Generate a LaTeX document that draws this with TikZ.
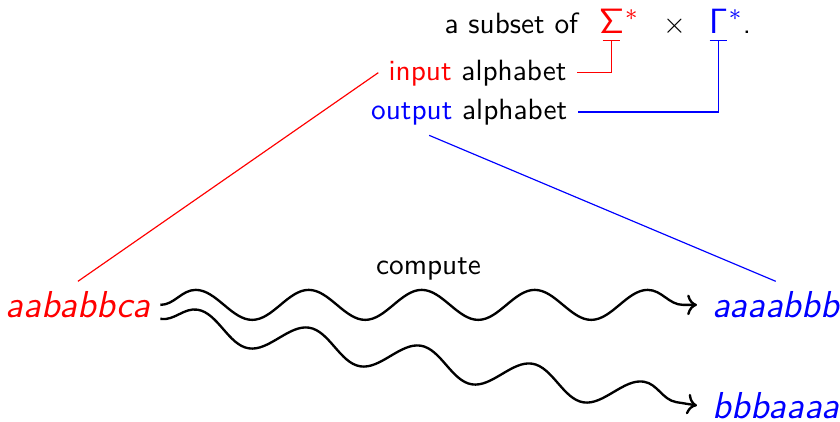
\documentclass[tikz,border=0pt]{standalone}
\usetikzlibrary{decorations.pathmorphing,arrows.meta,calc}
\begin{document}
\begin{tikzpicture}[x=0.3413pt,y=-0.3413pt,
  txt/.style={inner sep=0pt, anchor=base west, font=\sffamily\fontsize{10}{12}\selectfont},
  lbl/.style={inner sep=3.333pt, anchor=base west, font=\sffamily\fontsize{10}{12}\selectfont},
  word/.style={inner sep=3.333pt, anchor=base west, font=\sffamily\itshape\fontsize{12.8}{15}\selectfont},
  greek/.style={inner xsep=0pt, inner ysep=2pt, anchor=base, font=\fontsize{12}{14}\selectfont},
  star/.style={inner sep=0pt, anchor=base west, font=\sffamily\fontsize{12}{14}\selectfont},
  tick/.style={arrows={Bar[width=6pt]-}, line width=0.4pt},
  conn/.style={line width=0.4pt},
  wave/.style={->, thick, decorate, decoration={snake, amplitude=5.12pt, segment length=38.57pt}},
]
\useasboundingbox (0,0) rectangle (840,422);

% top line
\node[txt] (sub) at (444,33.3) {a subset of};
\node[greek, red] (sig) at (611.5,33.3) {$\mathsf{\Sigma}$};
\node[star, red] (sigs) at (sig.base east) {${}^{*}$};
\node[inner sep=0pt, anchor=base, font=\fontsize{10}{12}\selectfont] (times) at (674.5,33.3) {$\times$};
\node[greek, blue] (gam) at (718.5,33.3) {$\mathsf{\Gamma}$};
\node[star] (gams) at (gam.base east) {\textcolor{blue}{${}^{*}$}\fontsize{10}{12}\selectfont.};

% labels
\node[lbl] (inp) at (378.3,80) {\textcolor{red}{input} alphabet};
\node[lbl] (outp) at (360.8,119.3) {\textcolor{blue}{output} alphabet};

% words
\node[word, red] (w1) at (-4.5,317.7) {aababbca};
\node[word, blue] (w2) at (702,317.7) {aaaabbb};
\node[word, blue] (w3) at (702,418.3) {bbbaaaa};
\node[txt, anchor=base] (cmp) at (428.5,274.3) {compute};

% connectors
\draw[red, tick] (sig.south) |- (inp.east);
\draw[blue, tick] (gam.south) |- (outp.east);
\draw[red, conn] (inp.west) -- (w1.north);
\draw[blue, conn] ($(outp.south)+(-40,0)$) -- (w2.north);

% waves
\draw[wave] (w1.east) -- ($(w2.west)+(-5,0)$);
\draw[wave] ($(w1.east)+(0,14)$) -- ($(w3.west)+(-5,0)$);
\end{tikzpicture}
\end{document}
